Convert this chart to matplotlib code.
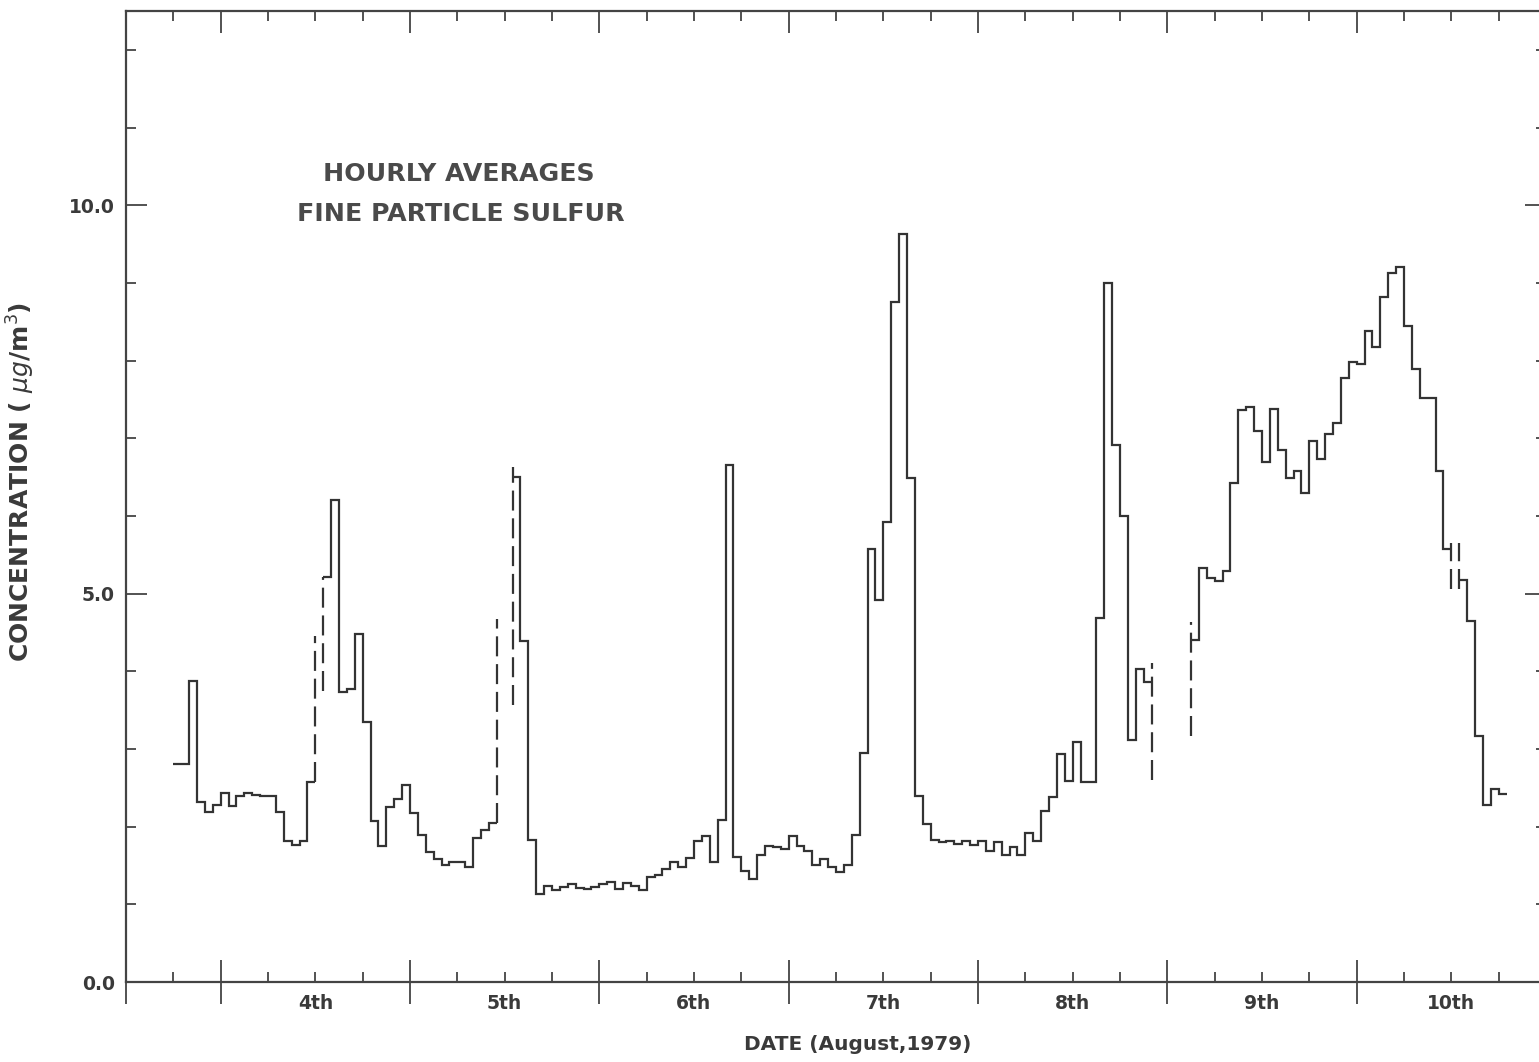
import numpy as np
import matplotlib
matplotlib.use('Agg')
import matplotlib.pyplot as plt
from matplotlib.ticker import MultipleLocator, FixedLocator

# hourly fine particle sulfur, hours counted from Aug 3 12:00 (first value = hour 6)
first_hour = 6
conc = [
    2.81, 2.81, 3.87, 2.32, 2.19, 2.28,                                 # h6-11
    2.43, 2.26, 2.39, 2.43, 2.41, 2.40, 2.39, 2.19, 1.82, 1.77, 1.82, 2.58,  # h12-23
    np.nan, 5.21, 6.20, 3.73, 3.77, 4.48, 3.35, 2.07, 1.75, 2.25, 2.35, 2.54,  # h24-35
    2.17, 1.89, 1.67, 1.58, 1.51, 1.54, 1.55, 1.48, 1.86, 1.96, 2.05, np.nan,  # h36-47
    np.nan, 6.50, 4.39, 1.83, 1.13, 1.23, 1.19, 1.22, 1.26, 1.21, 1.20, 1.22,  # h48-59
    1.26, 1.29, 1.20, 1.28, 1.24, 1.19, 1.35, 1.38, 1.45, 1.55, 1.48, 1.59,  # h60-71
    1.82, 1.88, 1.55, 2.09, 6.66, 1.61, 1.43, 1.32, 1.64, 1.75, 1.74, 1.71,  # h72-83
    1.88, 1.75, 1.68, 1.51, 1.58, 1.48, 1.42, 1.50, 1.89, 2.95, 5.58, 4.92,  # h84-95
    5.92, 8.75, 9.63, 6.49, 2.39, 2.04, 1.83, 1.80, 1.81, 1.78, 1.82, 1.77,  # h96-107
    1.81, 1.68, 1.80, 1.63, 1.74, 1.63, 1.92, 1.82, 2.20, 2.38, 2.94, 2.59,  # h108-119
    3.09, 2.57, 2.57, 4.69, 9.00, 6.91, 6.00, 3.11, 4.03, 3.86, np.nan, np.nan,  # h120-131
    np.nan, np.nan, np.nan, 4.40, 5.33, 5.20, 5.16, 5.29, 6.42, 7.36, 7.40, 7.09,  # h132-143
    6.70, 7.38, 6.85, 6.49, 6.58, 6.30, 6.97, 6.73, 7.05, 7.20, 7.78, 7.98,  # h144-155
    7.95, 8.38, 8.18, 8.82, 9.13, 9.20, 8.44, 7.89, 7.52, 7.52, 6.58, 5.57,  # h156-167
    np.nan, 5.18, 4.65, 3.17, 2.28, 2.49, 2.42,                         # h168-174
]

# dashed verticals around missing hours: (hour, low, high)
gap_hours = [24, 25, 47, 49, 130, 135, 168, 169]
gap_low = [2.58, 3.75, 2.05, 3.57, 2.60, 3.17, 5.06, 5.06]
gap_high = [4.46, 5.21, 4.67, 6.63, 4.11, 4.64, 5.65, 5.65]

day_labels = ['4th', '5th', '6th', '7th', '8th', '9th', '10th']
day_centers = [24, 48, 72, 96, 120, 144, 168]
day_edges = [0, 12, 36, 60, 84, 108, 132, 156]

ink = '#333333'
txt = '#3a3a3a'

fig = plt.figure(figsize=(15.39, 10.62), dpi=100)
ax = fig.add_axes([126/1539, 80/1062, 1420/1539, 971/1062])

vals = np.array(conc, dtype=float)
ok = ~np.isnan(vals)
i = 0
while i < len(vals):
    if not ok[i]:
        i += 1
        continue
    j = i
    while j < len(vals) and ok[j]:
        j += 1
    edges = np.arange(first_hour + i, first_hour + j + 1)
    ax.stairs(vals[i:j], edges, baseline=None, color=ink, lw=1.6)
    i = j

for h, lo, hi in zip(gap_hours, gap_low, gap_high):
    ax.plot([h, h], [lo, hi], color=ink, lw=1.6, ls=(0, (9, 3.5)))

ax.set_xlim(0, 180)
ax.set_ylim(0, 12.5)

for s in ax.spines.values():
    s.set_color('#444444')
    s.set_linewidth(1.6)

# x ticks: day boundaries crossing the axis, 6-hour minor ticks inside
ax.xaxis.set_major_locator(FixedLocator(day_edges))
ax.xaxis.set_minor_locator(MultipleLocator(6))
ax.set_xticklabels([])
ax.tick_params(axis='x', which='major', direction='inout', length=32, width=1.3,
               color='#444444', top=False)
ax.tick_params(axis='x', which='minor', direction='in', length=7, width=1.3,
               color='#444444', top=False)

top = ax.secondary_xaxis('top')
top.xaxis.set_major_locator(FixedLocator(day_edges))
top.xaxis.set_minor_locator(MultipleLocator(6))
top.set_xticklabels([])
top.tick_params(which='major', direction='in', length=16, width=1.3, color='#444444')
top.tick_params(which='minor', direction='in', length=7, width=1.3, color='#444444')
top.spines['top'].set_visible(False)

# y ticks
ax.set_yticks([0, 5, 10])
ax.set_yticklabels(['0.0', '5.0', '10.0'])
ax.yaxis.set_minor_locator(MultipleLocator(1))
ax.tick_params(axis='y', which='major', direction='in', length=15, width=1.3,
               color='#444444', right=True, pad=8, labelsize=13.5, labelcolor=txt)
ax.tick_params(axis='y', which='minor', direction='in', length=7, width=1.3,
               color='#444444', right=True)
for t in ax.get_yticklabels():
    t.set_fontweight('bold')

for lab, c in zip(day_labels, day_centers):
    ax.text(c, -0.022, lab, transform=ax.get_xaxis_transform(), ha='center', va='center',
            fontsize=13.5, fontweight='bold', color=txt)

fig.text(459/1539, 1 - 174/1062, 'HOURLY AVERAGES', ha='center', va='center',
         fontsize=18.2, fontweight='bold', color='#4a4a4a')
fig.text(461/1539, 1 - 214/1062, 'FINE PARTICLE SULFUR', ha='center', va='center',
         fontsize=18.2, fontweight='bold', color='#4a4a4a')

fig.text(858/1539, 1 - 1045/1062, 'DATE (August,1979)', ha='center', va='center',
         fontsize=14.5, fontweight='bold', color=txt)
fig.text(21/1539, 1 - 482/1062, r'CONCENTRATION ( $\mu g$/m$^3$)', ha='center', va='center',
         rotation=90, fontsize=18, fontweight='bold', color=txt)

fig.savefig('out.png', dpi=100)
